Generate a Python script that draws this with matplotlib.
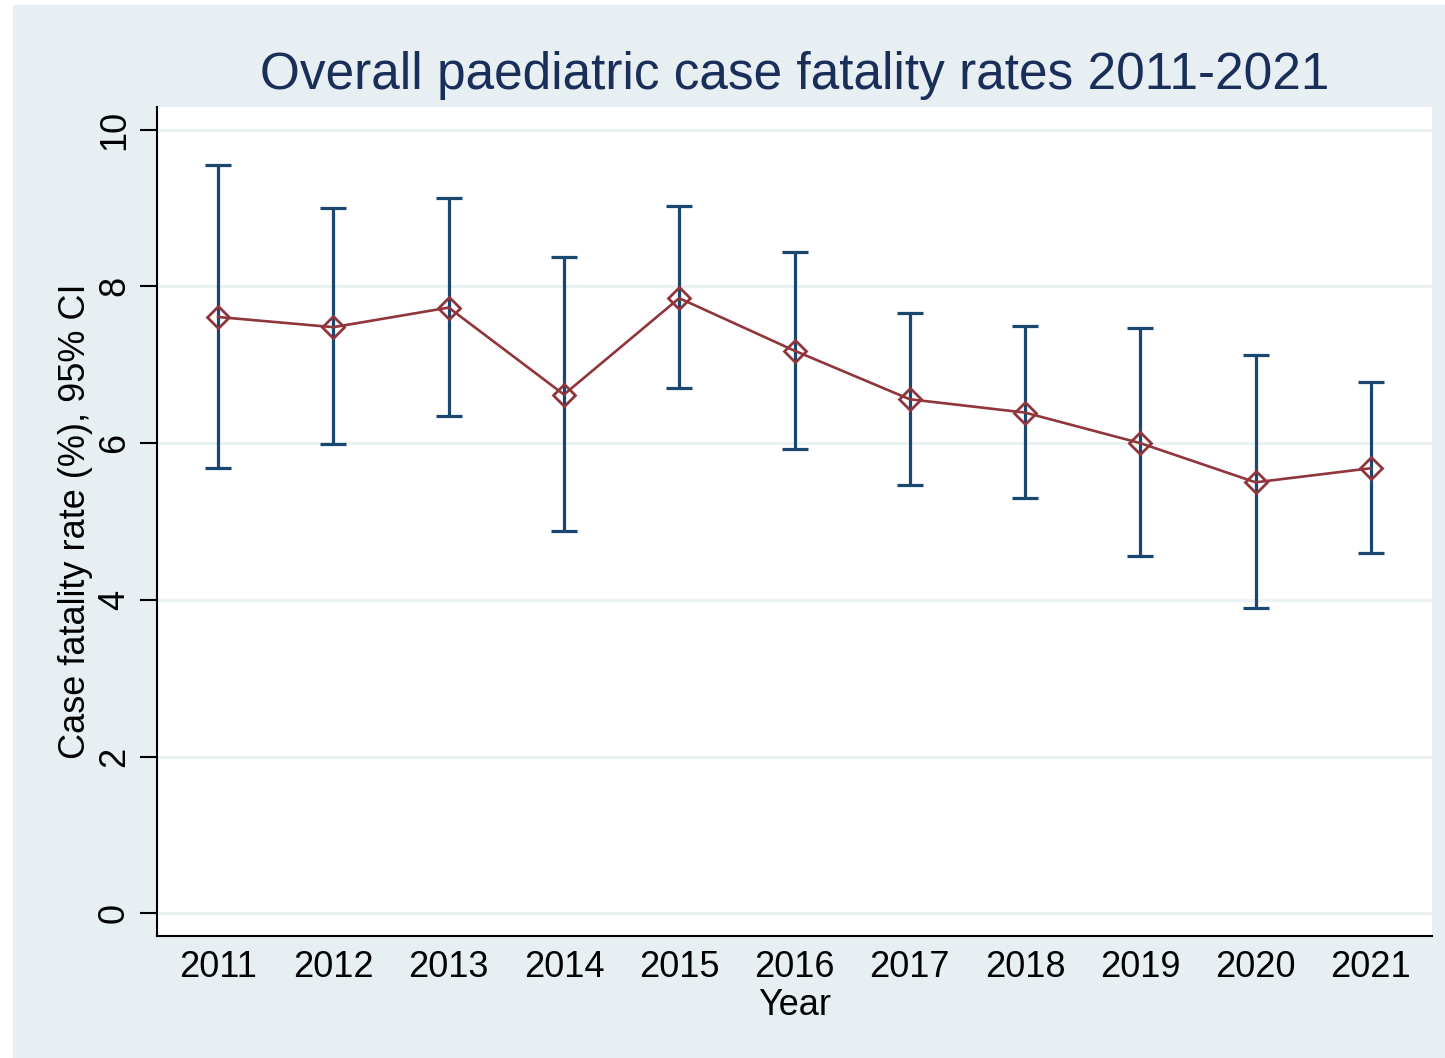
import numpy as np
import matplotlib.pyplot as plt

years = [2011, 2012, 2013, 2014, 2015, 2016, 2017, 2018, 2019, 2020, 2021]
cfr = [7.61, 7.48, 7.73, 6.62, 7.85, 7.18, 6.56, 6.39, 6.00, 5.50, 5.68]
ci_low = [5.68, 5.99, 6.35, 4.88, 6.70, 5.93, 5.47, 5.30, 4.56, 3.90, 4.60]
ci_high = [9.55, 9.00, 9.13, 8.38, 9.03, 8.44, 7.66, 7.50, 7.47, 7.13, 6.78]

BG = '#e8eff2'
NAVY = '#1a476f'
MAROON = '#90353b'

plt.rcParams['font.family'] = ['Liberation Sans', 'DejaVu Sans']

fig = plt.figure(figsize=(14.45, 10.58), dpi=100)
# light outer panel, leaving a thin white strip on the left and top
fig.patches.append(plt.Rectangle((13 / 1445, 0), 1 - 13 / 1445, 1 - 5 / 1058,
                                 transform=fig.transFigure, color=BG, zorder=-10))

ax = fig.add_axes([157 / 1445, 1 - 936 / 1058, (1432 - 157) / 1445, (936 - 107) / 1058])
ax.set_facecolor('white')

x = np.array(years)
y = np.array(cfr)
lo = y - np.array(ci_low)
hi = np.array(ci_high) - y

ax.errorbar(x, y, yerr=[lo, hi], fmt='none', ecolor=NAVY, elinewidth=2.3,
            capsize=9.5, capthick=2.3, zorder=2)
ax.plot(x, y, color=MAROON, linewidth=1.9, marker='D', markersize=11,
        markerfacecolor='none', markeredgecolor=MAROON, markeredgewidth=2.0, zorder=3)

ax.set_xlim(2010.47, 2021.53)
ax.set_ylim(-0.29, 10.29)
ax.set_xticks(years)
ax.set_xticklabels([str(v) for v in years])
ax.set_yticks([0, 2, 4, 6, 8, 10])
ax.tick_params(axis='x', length=0, labelsize=26, pad=10)
ax.tick_params(axis='y', length=12, width=1.5, labelsize=26, pad=6)
for lab in ax.get_yticklabels():
    lab.set_rotation(90)
    lab.set_va('center')

ax.grid(axis='y', color='#eaf2f3', linewidth=2.2, zorder=0)
ax.set_axisbelow(True)
for s in ['top', 'right']:
    ax.spines[s].set_visible(False)
for s in ['left', 'bottom']:
    ax.spines[s].set_linewidth(1.5)

ax.set_xlabel('Year', fontsize=26, labelpad=2)
ax.set_ylabel('Case fatality rate (%), 95% CI', fontsize=26, labelpad=3)
ax.set_title('Overall paediatric case fatality rates 2011-2021', fontsize=37,
             color='#1a2e5a', pad=13)

fig.savefig('out.png', dpi=100, facecolor='white')
